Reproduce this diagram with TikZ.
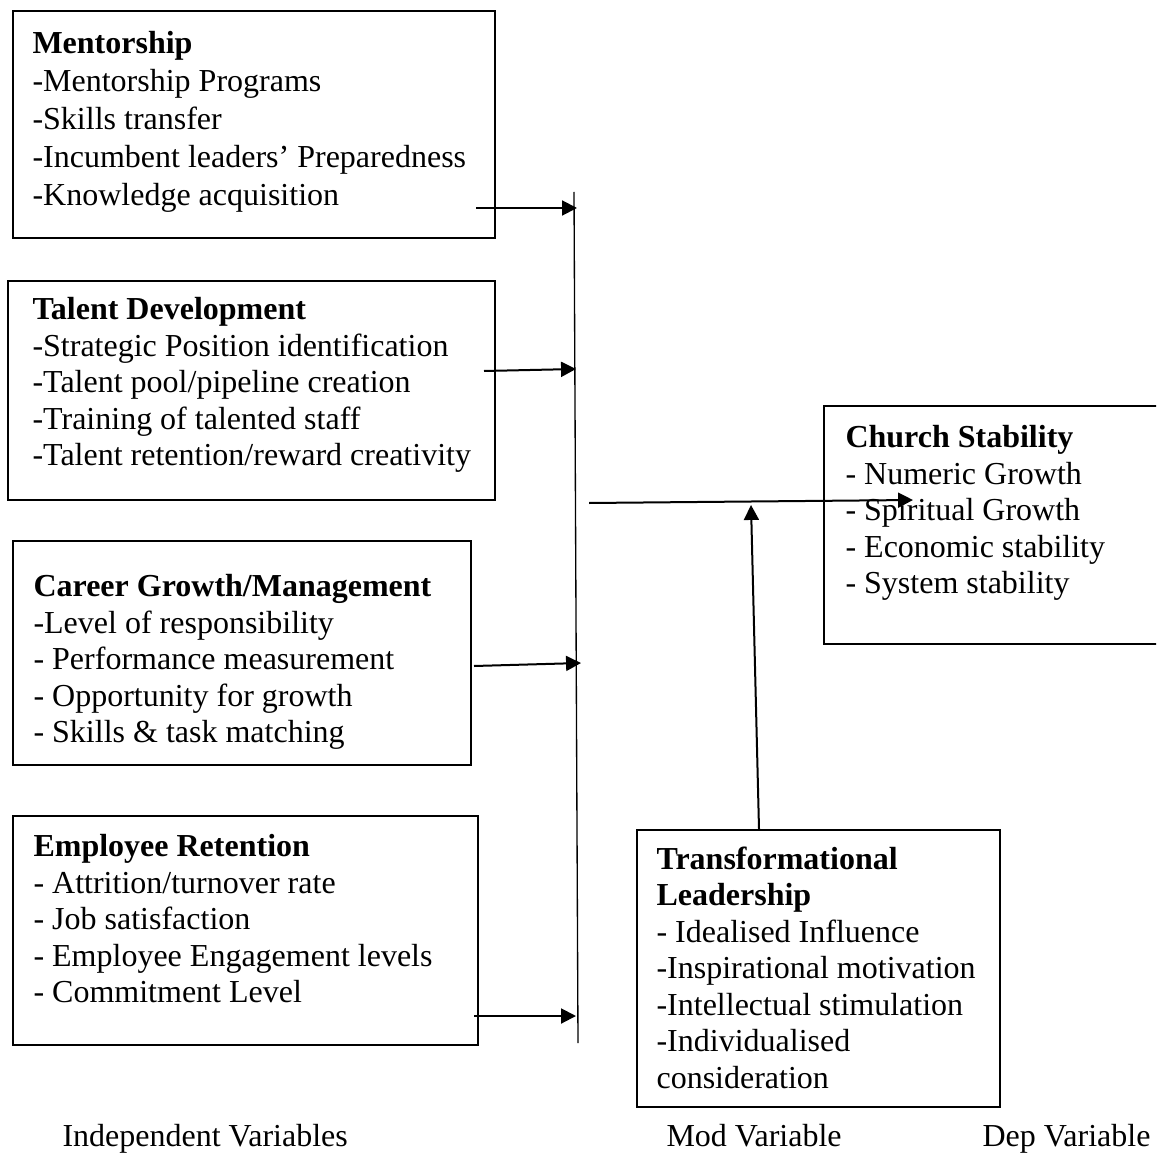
\documentclass[tikz,border=0pt]{standalone}
\usepackage{fontspec}
\setmainfont{Liberation Serif}
\usetikzlibrary{arrows.meta}
\usetikzlibrary{calc}
\usetikzlibrary{positioning}

\newcommand\pxu{0.375pt}

\begin{document}
\begin{tikzpicture}[
      x=0.375pt, y=-0.375pt,
      box/.style ={draw, line width=0.75pt, anchor=north west, inner sep=0pt},
      list/.style={anchor=north west, inner sep=0pt, align=left, font=\fontsize{12}{13.69}\selectfont},
      pil/.style ={-{Triangle[length=5.6pt, width=5.6pt]}, line width=0.75pt},
      foot/.style={anchor=base west, inner sep=0pt, font=\fontsize{12}{13.69}\selectfont}
    ]
    \useasboundingbox (0,0) rectangle (1156,1176);
    \clip (0,0) rectangle (1156,1176);

    % independent variables
    \node [box, minimum width=482*\pxu, minimum height=227*\pxu] (ment) at (12,10) {};
    \node [list, font=\fontsize{12}{14.2}\selectfont] (mentTxt) at (32,31) {\textbf{Mentorship}\\-Mentorship Programs\\-Skills transfer\\-Incumbent leaders’ Preparedness\\-Knowledge acquisition};
    \node [box, minimum width=487*\pxu, minimum height=219*\pxu] (talent) at (7,280) {};
    \node [list] (talentTxt) at (32,297) {\textbf{Talent Development}\\-Strategic Position identification\\-Talent pool/pipeline creation\\-Training of talented staff\\-Talent retention/reward creativity};
    \node [box, minimum width=458*\pxu, minimum height=224*\pxu] (career) at (12,540) {};
    \node [list] (careerTxt) at (33,574) {\textbf{Career Growth/Management}\\-Level of responsibility\\- Performance measurement\\- Opportunity for growth\\- Skills \& task matching};
    \node [box, minimum width=465*\pxu, minimum height=229*\pxu] (retain) at (12,815) {};
    \node [list] (retainTxt) at (33,834) {\textbf{Employee Retention}\\- Attrition/turnover rate\\- Job satisfaction\\- Employee Engagement levels\\- Commitment Level};

    % dependent and moderating variables
    \node [box, minimum width=345*\pxu, minimum height=238*\pxu] (church) at (823,405) {};
    \node [list] (churchTxt) at (845,425) {\textbf{Church Stability}\\- Numeric Growth\\- Spiritual Growth\\- Economic stability\\- System stability};
    \node [box, minimum width=363*\pxu, minimum height=277*\pxu] (trans) at (636,829) {};
    \node [list] (transTxt) at (656,846) {\textbf{Transformational}\\\textbf{Leadership}\\- Idealised Influence\\-Inspirational motivation\\-Intellectual stimulation\\-Individualised\\consideration};

    % joining bar
    \coordinate (barTop) at (574,192);
    \coordinate (barBot) at (578,1043);
    \draw [line width=0.5pt] (barTop) -- (barBot);

    \coordinate (m1) at (476,208);  \coordinate (m2) at (577,208);
    \coordinate (t1) at (484,371);  \coordinate (t2) at (576,369);
    \coordinate (c1) at (474,666);  \coordinate (c2) at (581,663);
    \coordinate (r1) at (474,1016); \coordinate (r2) at (576,1016);
    \draw [pil] (m1) -- (m2);
    \draw [pil] (t1) -- (t2);
    \draw [pil] (c1) -- (c2);
    \draw [pil] (r1) -- (r2);

    \coordinate (out1) at (589,503);
    \coordinate (out2) at (913,500);
    \draw [pil] (out1) -- (out2);
    \coordinate (mod1) at (759,829);
    \coordinate (mod2) at (751,505);
    \draw [pil] (mod1) -- (mod2);

    % captions
    \node [foot] (indep) at (62,1146) {Independent Variables};
    \node [foot] (modv) at (666,1146) {Mod Variable};
    \node [foot] (depv) at (982,1146) {Dep Variable};
  \end{tikzpicture}
\end{document}
